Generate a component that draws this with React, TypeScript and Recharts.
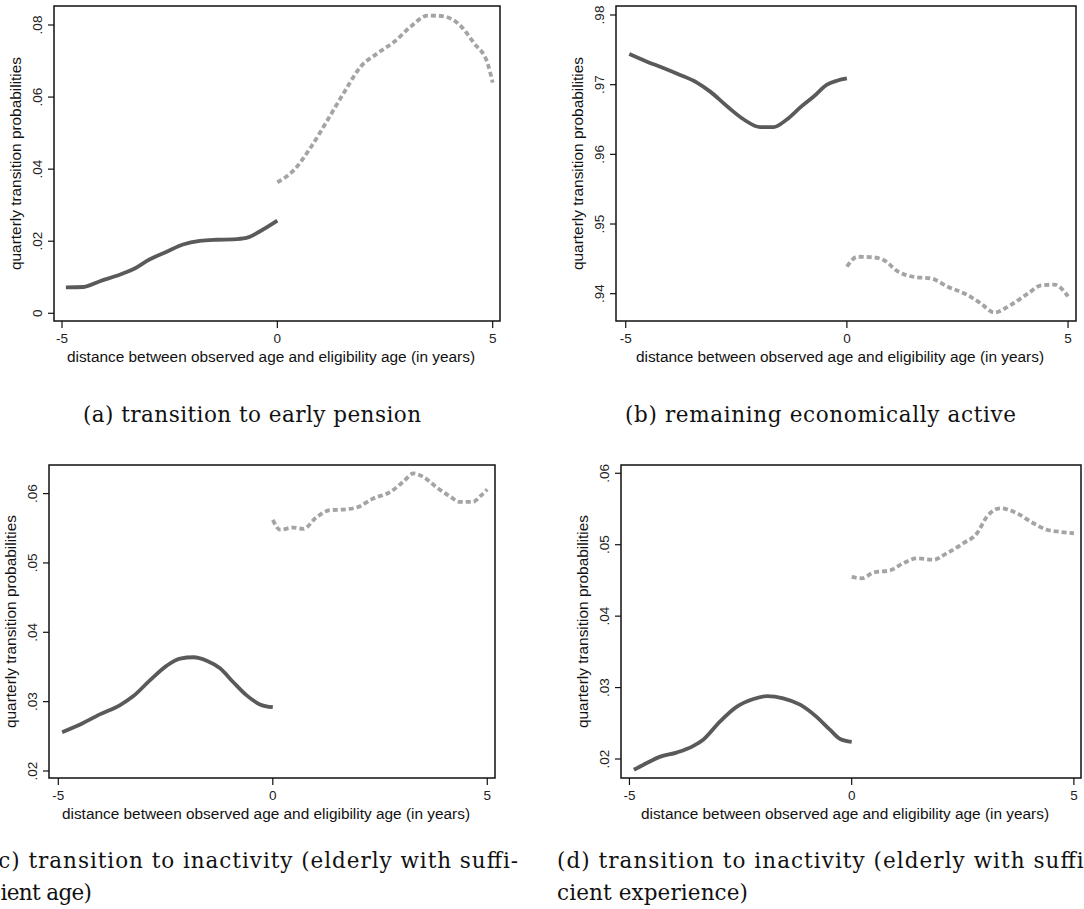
import { LineChart, Line, XAxis, YAxis, ReferenceArea } from "recharts";

// x ticks shared by all panels
const xTicks = [-5, 0, 5];

// (a) transition to early pension
const aTicks = [0, 0.02, 0.04, 0.06, 0.08];
const aSolidX = [-4.91, -4.5, -4.12, -3.73, -3.35, -2.96, -2.57, -2.19, -1.8, -1.41, -1.03, -0.72, -0.41, 0];
const aSolidY = [0.0072, 0.0073, 0.0089, 0.0104, 0.0122, 0.015, 0.0171, 0.0191, 0.0201, 0.0204, 0.0205, 0.0209, 0.0227, 0.0257];
const aDashX = [0, 0.39, 0.79, 1.17, 1.56, 1.94, 2.33, 2.72, 3.1, 3.49, 3.8, 4.19, 4.57, 4.88, 5.0];
const aDashY = [0.0363, 0.0398, 0.0463, 0.0537, 0.0615, 0.0685, 0.0722, 0.0754, 0.0796, 0.0826, 0.0825, 0.0805, 0.0749, 0.0694, 0.064];

// (b) remaining economically active
const bTicks = [0.94, 0.95, 0.96, 0.97, 0.98];
const bSolidX = [-4.92, -4.52, -4.15, -3.77, -3.39, -3.09, -2.71, -2.33, -1.96, -1.66, -1.36, -1.06, -0.75, -0.45, -0.21, 0];
const bSolidY = [0.9744, 0.9733, 0.9724, 0.9714, 0.9703, 0.969, 0.9669, 0.965, 0.9639, 0.9639, 0.965, 0.9667, 0.9683, 0.97, 0.9706, 0.9709];
const bDashX = [0, 0.24, 0.62, 0.84, 1.15, 1.52, 1.9, 2.28, 2.73, 3.03, 3.33, 3.71, 4.09, 4.39, 4.69, 4.84, 5.0];
const bDashY = [0.9439, 0.9453, 0.9452, 0.9448, 0.9432, 0.9424, 0.9422, 0.941, 0.9398, 0.9386, 0.9373, 0.9384, 0.94, 0.9412, 0.9413, 0.9408, 0.9396];

// (c) inactivity, sufficient age
const cTicks = [0.02, 0.03, 0.04, 0.05, 0.06];
const cSolidX = [-4.91, -4.49, -4.02, -3.56, -3.25, -2.86, -2.47, -2.16, -1.85, -1.54, -1.23, -0.92, -0.61, -0.3, 0];
const cSolidY = [0.0256, 0.0267, 0.0282, 0.0295, 0.0308, 0.0331, 0.0352, 0.0362, 0.0364, 0.0359, 0.0348, 0.0328, 0.0309, 0.0296, 0.0292];
const cDashX = [0, 0.17, 0.48, 0.71, 1.02, 1.33, 1.64, 1.96, 2.34, 2.73, 3.04, 3.28, 3.51, 3.82, 4.13, 4.36, 4.67, 4.83, 5.0];
const cDashY = [0.0562, 0.0548, 0.0551, 0.0549, 0.0566, 0.0576, 0.0577, 0.058, 0.0593, 0.0602, 0.0617, 0.0629, 0.0624, 0.0609, 0.0596, 0.0588, 0.0588, 0.0596, 0.0606];

// (d) inactivity, sufficient experience
const dTicks = [0.02, 0.03, 0.04, 0.05, 0.06];
const dSolidX = [-4.9, -4.62, -4.32, -3.94, -3.57, -3.34, -2.97, -2.59, -2.21, -1.91, -1.54, -1.16, -0.79, -0.49, -0.26, 0];
const dSolidY = [0.0185, 0.0194, 0.0203, 0.0209, 0.0218, 0.0227, 0.0252, 0.0273, 0.0284, 0.0288, 0.0285, 0.0276, 0.0259, 0.0241, 0.0228, 0.0224];
const dDashX = [0, 0.23, 0.49, 0.86, 1.16, 1.46, 1.84, 2.14, 2.51, 2.82, 3.04, 3.34, 3.72, 4.09, 4.39, 4.69, 5.0];
const dDashY = [0.0455, 0.0453, 0.0461, 0.0464, 0.0474, 0.0481, 0.0479, 0.0488, 0.0502, 0.0516, 0.0539, 0.0551, 0.0544, 0.053, 0.0521, 0.0518, 0.0516];

const X_TITLE = "distance between observed age and eligibility age (in years)";
const Y_TITLE = "quarterly transition probabilities";

const SANS = 'Arial, "Liberation Sans", sans-serif';
const SERIF = '"DejaVu Serif", serif';
const SOLID = "#5a5a5a";
const DASH = "#a4a4a4";

const toPts = (xs: number[], ys: number[]) => xs.map((x, i) => ({ x, y: ys[i] }));

const fmtY = (v: number) => (v === 0 ? "0" : v.toFixed(2).replace(/^0/, ""));

function YTick(props: any) {
  const { x, y, payload } = props;
  return (
    <text x={x} y={y} transform={`rotate(-90 ${x} ${y})`} textAnchor="middle" fontSize={13.5} fontFamily={SANS} fill="#222">
      {fmtY(payload.value)}
    </text>
  );
}

function XTick(props: any) {
  const { x, y, payload } = props;
  return (
    <text x={x} y={y} dy="0.71em" textAnchor="middle" fontSize={13.5} fontFamily={SANS} fill="#222">
      {payload.value}
    </text>
  );
}

function XTitle(props: any) {
  const vb = props.viewBox || { x: 0, y: 0, width: 0 };
  return (
    <text x={vb.x + vb.width / 2 - 6} y={vb.y + 41} textAnchor="middle" fontSize={15.4} fontFamily={SANS} fill="#111">
      {X_TITLE}
    </text>
  );
}

function YTitle(props: any) {
  const vb = props.viewBox || { x: 0, y: 0, width: 0, height: 0 };
  const x = vb.x + vb.width - 33;
  const y = vb.y + vb.height / 2;
  return (
    <text x={x} y={y} transform={`rotate(-90 ${x} ${y})`} textAnchor="middle" fontSize={15.4} fontFamily={SANS} fill="#111">
      {Y_TITLE}
    </text>
  );
}

type PanelProps = {
  left: number;
  top: number;
  width: number;
  plot: { l: number; r: number; t: number; b: number };
  xDomain: [number, number];
  yDomain: [number, number];
  yTicks: number[];
  solid: { x: number; y: number }[];
  dashed: { x: number; y: number }[];
};

function Panel({ left, top, width, plot, xDomain, yDomain, yTicks, solid, dashed }: PanelProps) {
  const xAxisH = 59;
  const height = plot.b - top + xAxisH;
  return (
    <div style={{ position: "absolute", left, top }}>
      <LineChart
        width={width}
        height={height}
        margin={{ top: plot.t - top, right: left + width - plot.r, bottom: 0, left: 0 }}
      >
        <XAxis
          type="number"
          dataKey="x"
          domain={xDomain}
          allowDataOverflow
          ticks={xTicks}
          height={xAxisH}
          axisLine={false}
          tickLine={{ stroke: "#111", strokeWidth: 1.2 }}
          tickSize={7}
          tickMargin={5}
          tick={XTick}
          label={XTitle}
        />
        <YAxis
          type="number"
          dataKey="y"
          domain={yDomain}
          allowDataOverflow
          ticks={yTicks}
          width={plot.l - left}
          axisLine={false}
          tickLine={{ stroke: "#111", strokeWidth: 1.2 }}
          tickSize={6}
          tickMargin={6}
          tick={YTick}
          label={YTitle}
        />
        <ReferenceArea
          x1={xDomain[0]}
          x2={xDomain[1]}
          y1={yDomain[0]}
          y2={yDomain[1]}
          fill="none"
          stroke="#111"
          strokeWidth={1.5}
          ifOverflow="visible"
        />
        <Line
          data={solid}
          dataKey="y"
          type="monotone"
          stroke={SOLID}
          strokeWidth={3.8}
          dot={false}
          activeDot={false}
          isAnimationActive={false}
        />
        <Line
          data={dashed}
          dataKey="y"
          type="monotone"
          stroke={DASH}
          strokeWidth={3.8}
          strokeDasharray="5 3"
          dot={false}
          activeDot={false}
          isAnimationActive={false}
        />
      </LineChart>
    </div>
  );
}

const captions = [
  { x: 83, y: 422, len: 338, text: "(a) transition to early pension" },
  { x: 625, y: 422, len: 391, text: "(b) remaining economically active" },
  { x: -11, y: 868, len: 529, text: "(c) transition to inactivity (elderly with suffi-" },
  { x: -11, y: 900, len: 103, text: "cient age)" },
  { x: 557, y: 868, len: 535, text: "(d) transition to inactivity (elderly with suffi-" },
  { x: 557, y: 900, len: 191, text: "cient experience)" },
];

export default function App() {
  return (
    <div
      style={{
        position: "absolute",
        left: 0,
        top: 0,
        width: 1084,
        height: 909,
        overflow: "hidden",
        background: "#fff",
      }}
    >
      <Panel
        left={0}
        top={0}
        width={540}
        plot={{ l: 54, r: 500, t: 6, b: 321 }}
        xDomain={[-5.186, 5.17]}
        yDomain={[-0.00214, 0.08527]}
        yTicks={aTicks}
        solid={toPts(aSolidX, aSolidY)}
        dashed={toPts(aDashX, aDashY)}
      />
      <Panel
        left={560}
        top={0}
        width={524}
        plot={{ l: 616, r: 1076, t: 6, b: 321 }}
        xDomain={[-5.22, 5.18]}
        yDomain={[0.93608, 0.98129]}
        yTicks={bTicks}
        solid={toPts(bSolidX, bSolidY)}
        dashed={toPts(bDashX, bDashY)}
      />
      <Panel
        left={0}
        top={450}
        width={540}
        plot={{ l: 49, r: 495, t: 465, b: 778 }}
        xDomain={[-5.217, 5.18]}
        yDomain={[0.01899, 0.06412]}
        yTicks={cTicks}
        solid={toPts(cSolidX, cSolidY)}
        dashed={toPts(cDashX, cDashY)}
      />
      <Panel
        left={560}
        top={450}
        width={524}
        plot={{ l: 621, r: 1081, t: 465, b: 778 }}
        xDomain={[-5.19, 5.16]}
        yDomain={[0.01734, 0.06116]}
        yTicks={dTicks}
        solid={toPts(dSolidX, dSolidY)}
        dashed={toPts(dDashX, dDashY)}
      />
      <svg
        width={1084}
        height={909}
        style={{ position: "absolute", left: 0, top: 0, pointerEvents: "none" }}
      >
        {captions.map((c) => (
          <text
            key={c.text}
            x={c.x}
            y={c.y}
            textLength={c.len}
            lengthAdjust="spacing"
            fontSize={21.5}
            fontFamily={SERIF}
            fill="#111"
          >
            {c.text}
          </text>
        ))}
      </svg>
    </div>
  );
}
